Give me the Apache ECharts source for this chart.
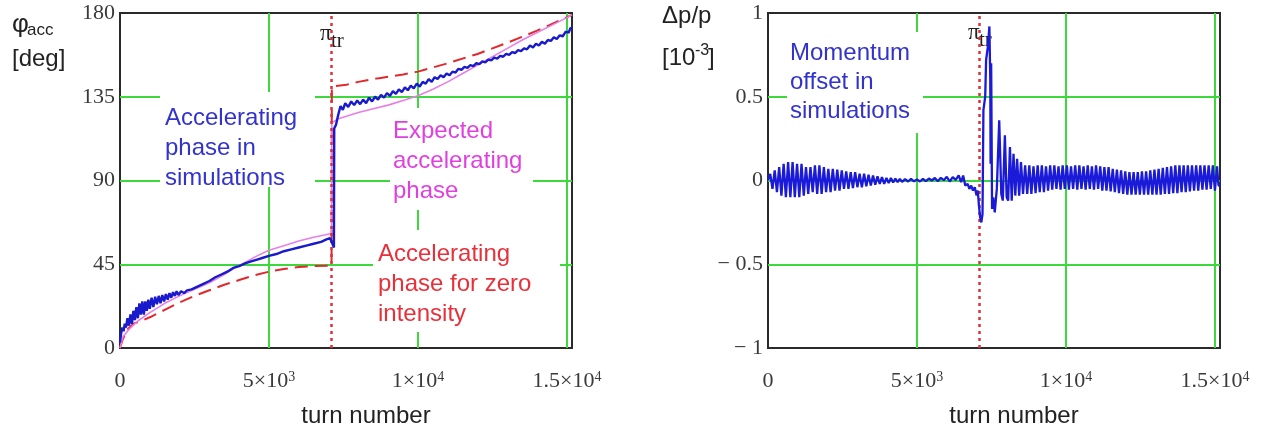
<!DOCTYPE html>
<html><head><meta charset="utf-8">
<script src="https://cdn.jsdelivr.net/npm/echarts@6/dist/echarts.min.js"></script>
<style>html,body{margin:0;padding:0;background:#fff}#c{width:1263px;height:435px}</style>
</head><body><div id="c"></div>
<script>
// ---------- tick labels ----------
const xTickValues = [0, 5000, 10000, 15000];
const xTickText = ['0', '{n|5×10}{s|3}', '{n|1×10}{s|4}', '{n|1.5×10}{s|4}'];
const phiTickValues = [0, 45, 90, 135, 180];
const phiTickText = ['0', '45', '90', '135', '180'];
const dpTickValues = [-1, -0.5, 0, 0.5, 1];
const dpTickText = ['− 1', '− 0.5', '0', '0.5', '1'];
const transitionTurn = 7100;

// ---------- left panel: accelerating phase [deg] vs turn ----------
const phiSimulated = [
  [0,3],[40,8],[80,11],[120,9],[160,13],[200,11],[250,16],[300,12],[350,18],[400,13],[450,20],[500,15],
  [550,22],[600,16],[650,24],[700,18],[750,25],[800,18],[850,25],[900,20],[950,26],[1000,21],[1060,27],
  [1120,22],[1180,27.5],[1240,23.5],[1300,28],[1360,24],[1420,28.5],[1480,25],[1540,29],[1600,26],
  [1660,29.5],[1720,27],[1780,30],[1840,28],[1900,30.5],[1960,28.5],[2050,30.5],[2150,29.5],[2250,31],
  [2400,31.5],[2600,33],[2800,34.5],[3000,36],[3200,38],[3400,39.5],[3600,41],[3800,43],[4000,44],
  [4200,45.5],[4400,46.5],[4600,47.5],[4800,48.5],[5000,49.5],[5250,50.5],[5500,52],[5750,53],[6000,54],
  [6250,55],[6500,56],[6750,57],[6950,58.5],[7050,59],[7130,56],[7180,54],
  [7190,118],[7250,120],[7320,125],[7400,130],[7480,128],[7560,131.5],[7660,129.5],[7760,132.5],[7860,130.5],
  [7960,133],[8060,131],[8160,133.5],[8260,131.5],[8360,134.5],[8460,132.5],[8560,135],[8660,133.5],
  [8760,136],[8860,134.5],[8960,137],[9060,135.5],[9160,138],[9260,136.5],[9360,139],[9460,137.5],
  [9560,140],[9660,138.5],[9760,141],[9860,139.5],[9960,142],[10060,140.5],[10160,143],[10260,142],
  [10360,144.5],[10460,143],[10560,145.5],[10660,144.5],[10760,146.5],[10860,145.5],[10960,147.5],
  [11060,146.5],[11160,148.5],[11260,148],[11360,150],[11460,149.5],[11560,151],[11660,150.5],[11760,152],
  [11860,151.5],[11960,153],[12060,152.5],[12160,154],[12260,153.5],[12360,155],[12460,154.5],[12560,156],
  [12660,155.5],[12760,157],[12860,156.5],[12960,158],[13060,157.5],[13160,159],[13260,158.5],[13360,160],
  [13460,159.5],[13560,161],[13660,160.5],[13760,162.5],[13860,161.5],[13960,163.5],[14060,162.5],
  [14160,164.5],[14260,163.5],[14360,165.5],[14460,165],[14560,167],[14660,166],[14760,168],[14860,167.5],
  [14960,170],[15060,169.5],[15120,172],[15170,171.5]
];
const phiExpected = [
  [0,0],[100,6],[300,10],[600,14.5],[1000,19],[1500,24],[2000,28],[2500,31.5],[3000,35],[3500,39.5],
  [3800,42.5],[4200,46],[4600,49.5],[5000,52.5],[5500,55],[6000,57.5],[6500,59.5],[7100,61.5],
  [7110,121],[7300,123],[7600,124.5],[8000,126.5],[8500,128.5],[9000,130.5],[9500,133],[10000,135.5],
  [10500,139],[11000,143],[11500,147.5],[12000,152],[12500,156.5],[13000,161],[13500,165.5],[14000,169.5],
  [14500,173.5],[15000,177.5],[15170,179]
];
const phiZeroIntensity = [
  [0,0],[100,5],[250,10],[450,13],[700,14.5],[1000,16.5],[1500,20.5],[2000,24.5],[2500,28],[3000,31],
  [3500,34],[4000,36.5],[4500,39],[5000,41],[5500,42.5],[6000,43.5],[6500,44],[7100,44.3],
  [7110,140.5],[7600,141.5],[8000,143],[8700,145],[9500,147],[10000,148.5],[11000,153],[12000,158],
  [13000,164],[14000,170.5],[15170,179]
];

// ---------- right panel: momentum offset [1e-3] vs turn ----------
const dpEarly = [
  [0,0],[75,0.04],[150,-0.05],[225,0.06],[300,-0.07],[375,0.08],[450,-0.09],[525,0.10],[600,-0.10],
  [675,0.11],[750,-0.10],[825,0.11],[900,-0.10],[975,0.10],[1050,-0.10],[1125,0.10],[1200,-0.09],
  [1275,0.08],[1350,-0.08],[1425,0.08],[1500,-0.07],[1575,0.09],[1650,-0.08],[1725,0.09],[1800,-0.08],
  [1875,0.08],[1950,-0.07],[2025,0.07],[2100,-0.07],[2175,0.07],[2250,-0.06],[2325,0.065],[2400,-0.06],
  [2475,0.06],[2550,-0.05],[2625,0.055],[2700,-0.05],[2775,0.05],[2850,-0.045],[2925,0.05],[3000,-0.04],
  [3075,0.04],[3150,-0.04],[3225,0.04],[3300,-0.035],[3375,0.035],[3450,-0.03],[3525,0.03],[3600,-0.025],
  [3675,0.025],[3750,-0.02],[3825,0.02],[3900,-0.02],[3975,0.015],[4050,-0.015],[4125,0.015],
  [4200,-0.012],[4275,0.012],[4350,-0.01],[4425,0.01],[4500,-0.008]
];
const dpMiddle = [
  [4600,0.008],[4700,-0.006],[4800,0.01],[4900,-0.005],[5000,0.006],[5100,-0.006],[5200,0.01],
  [5300,-0.004],[5400,0.012],[5500,0.0],[5600,0.015],[5700,-0.004],[5800,0.016],[5900,0.002],
  [6000,0.022],[6100,-0.006],[6200,0.02],[6300,0.004],[6400,0.03],[6480,-0.01],[6550,0.03],
  [6620,-0.03],[6700,-0.02],[6760,-0.05],[6820,-0.03],[6880,-0.06],[6940,-0.04],[7000,-0.09],
  [7040,-0.06],[7080,-0.15]
];
const dpTransition = [
  [7120,-0.22],[7160,-0.25],[7200,-0.2],[7230,0.42],[7290,0.5],[7320,0.72],[7380,0.8],[7430,0.92],
  [7460,0.6],[7470,0.1],[7490,0.7],[7520,-0.17],[7560,-0.1],[7610,-0.19],[7680,-0.05],[7760,0.36],
  [7830,-0.08],[7880,-0.12],[7950,0.27],[8010,-0.1],[8060,-0.12],[8120,0.2],[8180,-0.12],[8240,0.16],
  [8300,-0.09],[8360,0.13],[8430,-0.09],[8490,0.11]
];
const dpLate = [
  [8560,-0.08],[8630,0.09],[8700,-0.08],[8770,0.09],[8840,-0.08],[8910,0.085],[8980,-0.075],[9050,0.09],
  [9120,-0.07],[9190,0.09],[9260,-0.07],[9330,0.085],[9400,-0.06],[9470,0.09],[9540,-0.055],[9610,0.09],
  [9680,-0.05],[9750,0.085],[9820,-0.055],[9890,0.09],[9960,-0.05],[10030,0.09],[10100,-0.055],
  [10170,0.085],[10240,-0.05],[10310,0.09],[10380,-0.055],[10450,0.09],[10520,-0.05],[10590,0.085],
  [10660,-0.055],[10730,0.09],[10800,-0.05],[10870,0.085],[10940,-0.055],[11010,0.09],[11080,-0.05],
  [11150,0.085],[11220,-0.06],[11290,0.08],[11360,-0.06],[11430,0.08],[11500,-0.065],[11570,0.07],
  [11640,-0.07],[11710,0.065],[11780,-0.075],[11850,0.06],[11920,-0.08],[11990,0.055],[12060,-0.085],
  [12130,0.05],[12200,-0.085],[12270,0.05],[12340,-0.085],[12410,0.05],[12480,-0.085],[12550,0.055],
  [12620,-0.085],[12690,0.055],[12760,-0.085],[12830,0.06],[12900,-0.085],[12970,0.065],[13040,-0.085],
  [13110,0.07],[13180,-0.085],[13250,0.075],[13320,-0.08],[13390,0.08],[13460,-0.08],[13530,0.085],
  [13600,-0.075],[13670,0.09],[13740,-0.075],[13810,0.09],[13880,-0.07],[13950,0.09],[14020,-0.07],
  [14090,0.09],[14160,-0.065],[14230,0.09],[14300,-0.06],[14370,0.09],[14440,-0.06],[14510,0.09],
  [14580,-0.055],[14650,0.09],[14720,-0.055],[14790,0.09],[14860,-0.05],[14930,0.09],[15000,-0.06],
  [15070,0.085],[15120,-0.03],[15170,-0.03]
];

// ---------- styling ----------
const SERIF = "'Liberation Serif','DejaVu Serif',serif";
const SANS = "'Liberation Sans',Arial,sans-serif";
const gridGreen = '#3cd83c';
const tickColor = '#3a3a3a';

function pick(values, texts) {
  return function (v) {
    for (let i = 0; i < values.length; i++) if (Math.abs(values[i] - v) < 1e-9) return texts[i];
    return '';
  };
}
const tickRich = {
  n: { fontFamily: SERIF, fontSize: 22, color: tickColor },
  s: { fontFamily: SERIF, fontSize: 14, color: tickColor, verticalAlign: 'top' }
};
function xAxisCfg(gi) {
  return {
    gridIndex: gi, type: 'value', min: 0, max: 15170, interval: 5000,
    axisLine: { show: false }, axisTick: { show: false },
    splitLine: { show: true, showMinLine: false, showMaxLine: false, lineStyle: { color: gridGreen, width: 2 } },
    axisLabel: { margin: 22, fontFamily: SERIF, fontSize: 22, color: tickColor,
      formatter: pick(xTickValues, xTickText), rich: tickRich, showMaxLabel: false },
    name: 'turn number', nameLocation: 'middle', nameGap: 56,
    nameTextStyle: { fontFamily: SANS, fontSize: 24, color: '#222', padding: [0, 0, 0, 40] }
  };
}
function yAxisCfg(gi, min, max, interval, vals, texts) {
  return {
    gridIndex: gi, type: 'value', min: min, max: max, interval: interval,
    axisLine: { show: false }, axisTick: { show: false },
    splitLine: { show: true, showMinLine: false, showMaxLine: false, lineStyle: { color: gridGreen, width: 2 } },
    axisLabel: { margin: 5, fontFamily: SERIF, fontSize: 22, color: tickColor, formatter: pick(vals, texts) }
  };
}
const whiteBox = (x, y, w, h) => ({ type: 'rect', z: 1, silent: true, shape: { x: x, y: y, width: w, height: h }, style: { fill: '#fff' } });
const label = (left, top, text, color, lh) => ({
  type: 'text', z: 5, left: left, top: top, silent: true,
  style: { text: text, fill: color, font: '24px ' + SANS, lineHeight: lh }
});
const plain = (left, top, text, font, z) => ({
  type: 'text', z: z || 5, left: left, top: top, silent: true,
  style: { text: text, fill: '#222', font: font }
});

const chart = echarts.init(document.getElementById('c'), null, { renderer: 'canvas' });
chart.setOption({
  animation: false,
  backgroundColor: '#fff',
  grid: [
    { left: 120, top: 13, width: 452, height: 335, show: true, borderColor: '#2a2a2a', borderWidth: 2, backgroundColor: 'transparent', outerBoundsMode: 'none' },
    { left: 768, top: 13, width: 452, height: 335, show: true, borderColor: '#2a2a2a', borderWidth: 2, backgroundColor: 'transparent', outerBoundsMode: 'none' }
  ],
  xAxis: [xAxisCfg(0), xAxisCfg(1)],
  yAxis: [
    yAxisCfg(0, 0, 180, 45, phiTickValues, phiTickText),
    yAxisCfg(1, -1, 1, 0.5, dpTickValues, dpTickText)
  ],
  series: [
    { type: 'line', xAxisIndex: 0, yAxisIndex: 0, data: phiZeroIntensity, showSymbol: false, z: 3,
      lineStyle: { color: '#e0282d', width: 2, type: [13, 7] },
      markLine: { silent: true, symbol: 'none', label: { show: false },
        lineStyle: { color: '#e0303a', width: 2.5, type: [3, 4] }, data: [{ xAxis: transitionTurn }] } },
    { type: 'line', xAxisIndex: 0, yAxisIndex: 0, data: phiExpected, showSymbol: false, z: 4,
      lineStyle: { color: '#e67fe8', width: 1.6 } },
    { type: 'line', xAxisIndex: 0, yAxisIndex: 0, data: phiSimulated, showSymbol: false, z: 5,
      lineStyle: { color: '#1a1acd', width: 2.4 } },
    { type: 'line', xAxisIndex: 1, yAxisIndex: 1, data: dpEarly.concat(dpMiddle, dpTransition, dpLate),
      showSymbol: false, z: 5, lineStyle: { color: '#1a1ad8', width: 2.3 },
      markLine: { silent: true, symbol: 'none', label: { show: false },
        lineStyle: { color: '#e0303a', width: 2.5, type: [3, 4] }, data: [{ xAxis: transitionTurn }] } }
  ],
  graphic: [
    whiteBox(160, 92, 155, 95),
    whiteBox(390, 108, 143, 102),
    whiteBox(373, 230, 187, 102),
    whiteBox(787, 32, 136, 101),
    label(165, 103, 'Accelerating\nphase in\nsimulations', '#3232cc', 30),
    label(393, 116, 'Expected\naccelerating\nphase', '#e040e0', 30),
    label(378, 239, 'Accelerating\nphase for zero\nintensity', '#e8303a', 30),
    label(790, 39, 'Momentum\noffset in\nsimulations', '#3232cc', 29),
    plain(12, 12, 'φ', '26px ' + SANS),
    plain(27, 22, 'acc', '17px ' + SANS),
    plain(12, 47, '[deg]', '24px ' + SANS),
    plain(662, 4, 'Δp/p', '24px ' + SANS),
    plain(662, 46, '[10', '24px ' + SANS),
    plain(695, 43, '-3', '16px ' + SANS),
    plain(708, 46, ']', '24px ' + SANS),
    plain(320, 22, 'π', '23px ' + SERIF, 1),
    plain(331, 31, 'tr', '21px ' + SERIF, 1),
    plain(968, 21, 'π', '23px ' + SERIF, 1),
    plain(979, 30, 'tr', '21px ' + SERIF, 1)
  ]
});
</script>
</body></html>
